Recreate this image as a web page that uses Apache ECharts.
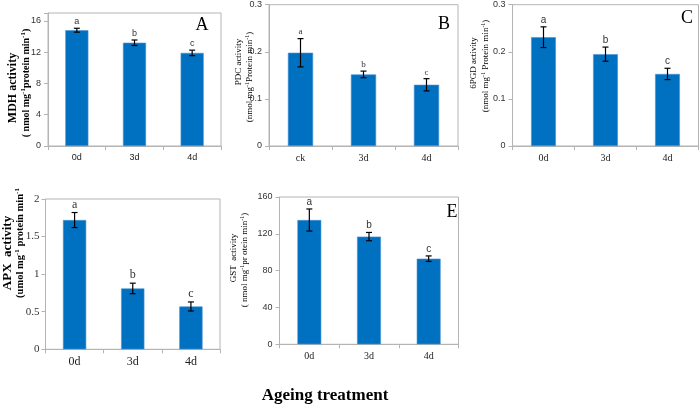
<!DOCTYPE html>
<html><head><meta charset="utf-8">
<script src="https://cdn.jsdelivr.net/npm/echarts@6/dist/echarts.min.js"></script>
<style>html,body{margin:0;padding:0;background:#fff}#c{width:700px;height:407px}</style>
</head><body><div id="c"></div>
<script>
// ---- data ----
const catsA = ['0d', '3d', '4d'];
const catsB = ['ck', '3d', '4d'];
const catsC = ['0d', '3d', '4d'];
const catsD = ['0d', '3d', '4d'];
const catsE = ['0d', '3d', '4d'];
const mdh = [14.8, 13.2, 11.9];
const mdhErr = [0.25, 0.35, 0.35];
const pdc = [0.198, 0.152, 0.130];
const pdcErr = [0.030, 0.007, 0.013];
const pgd = [0.231, 0.195, 0.153];
const pgdErr = [0.022, 0.015, 0.012];
const apx = [1.72, 0.81, 0.57];
const apxErr = [0.10, 0.07, 0.06];
const gst = [135, 117, 93];
const gstErr = [12, 4.5, 3];
const letters = ['a', 'b', 'c'];
// axis ranges [min, max, interval]
const axisA = [0, 17, 4];
const axisB = [0, 0.3, 0.1];
const axisC = [0, 0.3, 0.1];
const axisD = [0, 2, 0.5];
const axisE = [0, 160, 40];

const SERIF = 'Liberation Serif';
const SANS = 'Liberation Sans';
const BAR = '#0070C0';
const AX = '#b4b4b4';

const panels = [
  {grid: {left: 48, top: 13, width: 173, height: 133}, cats: catsA, vals: mdh, errs: mdhErr, ax: axisA,
   tickFont: SANS, tickSize: 9, tickMargin: 7, catFont: SANS, catSize: 9, letFont: SANS, letSize: 9},
  {grid: {left: 269, top: 4.7, width: 189, height: 141.3}, cats: catsB, vals: pdc, errs: pdcErr, ax: axisB,
   tickFont: SANS, tickSize: 9, tickMargin: 7, catFont: SERIF, catSize: 10, letFont: SERIF, letSize: 9},
  {grid: {left: 512.5, top: 4.7, width: 186, height: 141.3}, cats: catsC, vals: pgd, errs: pgdErr, ax: axisC,
   tickFont: SANS, tickSize: 9, tickMargin: 7, catFont: SERIF, catSize: 10, letFont: SANS, letSize: 10},
  {grid: {left: 45.5, top: 199, width: 174.5, height: 150.3}, cats: catsD, vals: apx, errs: apxErr, ax: axisD,
   tickFont: SERIF, tickSize: 11, tickMargin: 6, catFont: SERIF, catSize: 12, letFont: SERIF, letSize: 12},
  {grid: {left: 279.5, top: 197, width: 179, height: 147.3}, cats: catsE, vals: gst, errs: gstErr, ax: axisE,
   tickFont: SANS, tickSize: 9, tickMargin: 7, catFont: SERIF, catSize: 10, letFont: SANS, letSize: 10}
];

function makeErr(letFont, letSize) {
  return function (params, api) {
    const x = api.value(0), lo = api.value(1), hi = api.value(2);
    const t = api.coord([x, hi]), b = api.coord([x, lo]);
    const cw = 3;
    const st = {stroke: '#000', lineWidth: 1.2};
    return {type: 'group', children: [
      {type: 'line', shape: {x1: t[0], y1: t[1], x2: b[0], y2: b[1]}, style: st},
      {type: 'line', shape: {x1: t[0] - cw, y1: t[1], x2: t[0] + cw, y2: t[1]}, style: st},
      {type: 'line', shape: {x1: b[0] - cw, y1: b[1], x2: b[0] + cw, y2: b[1]}, style: st},
      {type: 'text', x: t[0], y: t[1] - 2, style: {text: letters[params.dataIndex], fill: '#333',
        fontFamily: letFont, fontSize: letSize, align: 'center', verticalAlign: 'bottom'}}
    ]};
  };
}

const grids = [], xAxes = [], yAxes = [], series = [];
panels.forEach((p, i) => {
  grids.push(Object.assign({show: true, borderColor: AX, borderWidth: 1, backgroundColor: 'transparent'}, p.grid));
  xAxes.push({type: 'category', gridIndex: i, data: p.cats,
    axisLine: {lineStyle: {color: AX}}, axisTick: {show: true, length: 4, lineStyle: {color: AX}},
    axisLabel: {fontFamily: p.catFont, fontSize: p.catSize, color: '#222', margin: 7}});
  yAxes.push({type: 'value', gridIndex: i, min: p.ax[0], max: p.ax[1], interval: p.ax[2],
    splitLine: {show: false}, axisLine: {show: true, lineStyle: {color: AX}},
    axisTick: {show: true, length: 4, lineStyle: {color: AX}},
    axisLabel: {fontFamily: p.tickFont, fontSize: p.tickSize, color: '#333', margin: p.tickMargin,
      formatter: v => (Math.abs(Math.round(v / p.ax[2]) * p.ax[2] - v) < 1e-9 ? String(+v.toFixed(3)) : '')}});
  series.push({type: 'bar', xAxisIndex: i, yAxisIndex: i, data: p.vals, barWidth: '40%',
    itemStyle: {color: BAR, borderColor: '#4a94d4', borderWidth: 0.6}, silent: true, animation: false});
  series.push({type: 'custom', xAxisIndex: i, yAxisIndex: i, renderItem: makeErr(p.letFont, p.letSize),
    encode: {x: 0, y: [1, 2]}, data: p.vals.map((v, k) => [k, v - p.errs[k], v + p.errs[k]]),
    silent: true, animation: false, z: 5});
});

function vtitle(x, y, parts, font, size, bold) {
  const rich = {
    n: {fontFamily: font, fontSize: size, fontWeight: bold ? 'bold' : 'normal', fill: '#000', lineHeight: size + 2},
    s: {fontFamily: font, fontSize: Math.round(size * 0.65), fontWeight: bold ? 'bold' : 'normal', fill: '#000', verticalAlign: 'top', lineHeight: size + 2}
  };
  const text = parts.map(([t, sup]) => '{' + (sup ? 's' : 'n') + '|' + t + '}').join('');
  return {type: 'text', x: x, y: y, rotation: Math.PI / 2,
    style: {text: text, rich: rich, align: 'center', verticalAlign: 'middle'}};
}

const graphics = [
  vtitle(13, 88, [['MDH activity']], SERIF, 12, true),
  vtitle(26, 83, [['( nmol mg'], ['-1', 1], ['protein min'], ['-1', 1], [')']], SERIF, 10, true),
  vtitle(239, 62, [['PDC activity']], SERIF, 9, false),
  vtitle(250, 77, [['(nmol mg'], ['-1', 1], ['Protein min'], ['-1', 1], [')']], SERIF, 9, false),
  vtitle(474, 63, [['6PGD activity']], SERIF, 9, false),
  vtitle(486, 66, [['(nmol mg'], ['-1', 1], [' Protein min'], ['-1', 1], [')']], SERIF, 9, false),
  vtitle(8, 253, [['APX  activity']], SERIF, 13, true),
  vtitle(20, 243, [['(umol mg'], ['-1', 1], [' protein min'], ['-1', 1]], SERIF, 10.5, true),
  vtitle(234, 258, [['GST  activity']], SERIF, 9, false),
  vtitle(245, 260, [['( nmol mg'], ['-1', 1], ['pr otein min'], ['-1', 1], [')']], SERIF, 9, false),
  {type: 'text', x: 202, y: 25, style: {text: 'A', fontFamily: SERIF, fontSize: 18, fill: '#000', align: 'center', verticalAlign: 'middle'}},
  {type: 'text', x: 444, y: 24, style: {text: 'B', fontFamily: SERIF, fontSize: 18, fill: '#000', align: 'center', verticalAlign: 'middle'}},
  {type: 'text', x: 687, y: 18, style: {text: 'C', fontFamily: SERIF, fontSize: 18, fill: '#000', align: 'center', verticalAlign: 'middle'}},
  {type: 'text', x: 452, y: 212, style: {text: 'E', fontFamily: SERIF, fontSize: 18, fill: '#000', align: 'center', verticalAlign: 'middle'}},
  {type: 'text', x: 325, y: 396, style: {text: 'Ageing treatment', fontFamily: SERIF, fontSize: 17, fontWeight: 'bold', fill: '#000', align: 'center', verticalAlign: 'middle'}}
];

const chart = echarts.init(document.getElementById('c'), null, {renderer: 'canvas'});
chart.setOption({animation: false, grid: grids, xAxis: xAxes, yAxis: yAxes, series: series, graphic: graphics});
</script>
</body></html>
